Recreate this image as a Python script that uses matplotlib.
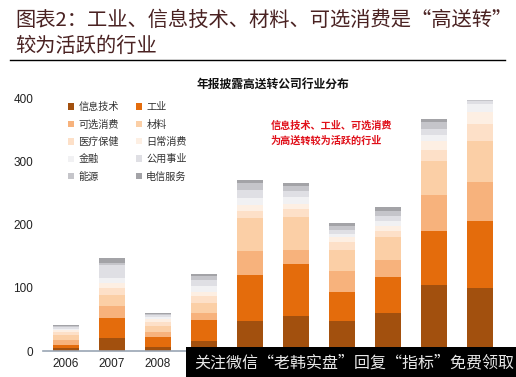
import matplotlib
matplotlib.use("Agg")
import matplotlib.pyplot as plt
from matplotlib.patches import Rectangle, Patch

plt.rcParams['font.family'] = ['Noto Sans CJK SC', 'DejaVu Sans']

years = ["2006", "2007", "2008", "2009", "2010", "2011", "2012", "2013", "2014", "2015"]
sectors = ["信息技术", "工业", "可选消费", "材料", "医疗保健", "日常消费", "金融", "公用事业", "能源", "电信服务"]

it_vals      = [5, 20, 6, 16, 47, 56, 48, 60, 105, 100]
ind_vals     = [4, 33, 16, 33, 74, 82, 46, 58, 85, 107]
cd_vals      = [8, 18, 8, 11, 37, 22, 33, 26, 58, 61]
mat_vals     = [8, 18, 10, 16, 53, 53, 34, 37, 53, 66]
health_vals  = [5, 11, 6, 11, 12, 12, 12, 10, 18, 26]
staples_vals = [3, 8, 5, 7, 9, 9, 8, 8, 14, 20]
fin_vals     = [2, 8, 3, 9, 11, 10, 5, 7, 10, 12]
util_vals    = [3, 20, 3, 9, 12, 10, 6, 8, 9, 5]
energy_vals  = [2, 4, 2, 7, 11, 8, 7, 9, 11, 1]
tel_vals     = [1, 7, 2, 4, 5, 4, 4, 5, 6, 0]

series = [it_vals, ind_vals, cd_vals, mat_vals, health_vals, staples_vals,
          fin_vals, util_vals, energy_vals, tel_vals]
colors = ["#a2500e", "#e46c0c", "#f7b27c", "#fbcfa6", "#fde0c8", "#fdefe3",
          "#f1f1f3", "#dfdfe4", "#c5c5ca", "#a3a3a7"]

fig = plt.figure(figsize=(5.16, 3.77), dpi=100)
ax = fig.add_axes([43/516, (377-351)/377, 460/516, 264.6/377])

x = list(range(len(years)))
bottom = [0]*len(years)
handles = []
for vals, col, name in zip(series, colors, sectors):
    ax.bar(x, vals, width=0.565, bottom=bottom, color=col, edgecolor='none')
    bottom = [b + v for b, v in zip(bottom, vals)]
    handles.append(Patch(facecolor=col, edgecolor='none', label=name))

ax.set_xlim(-0.5, 9.5)
ax.set_ylim(0, 420)
ax.set_yticks([0, 100, 200, 300, 400])
ax.set_xticks(x)
ax.set_xticklabels(years)
ax.tick_params(axis='both', length=0, labelsize=8.5, colors='#222222')
ax.tick_params(axis='y', pad=7)
ax.tick_params(axis='x', pad=5)
for lab in ax.get_xticklabels() + ax.get_yticklabels():
    lab.set_family(['Liberation Sans', 'DejaVu Sans'])
# labels from 2009 on lie under the black banner in the reference
for lab in ax.get_xticklabels()[3:]:
    lab.set_visible(False)
for s in ['top', 'right', 'left']:
    ax.spines[s].set_visible(False)
ax.spines['bottom'].set_color('#9aa6b4')
ax.spines['bottom'].set_linewidth(1.2)

# legend: row-wise order
order = [0, 2, 4, 6, 8, 1, 3, 5, 7, 9]
leg = ax.legend([handles[i] for i in order], [sectors[i] for i in order],
                ncol=2, loc='upper left', bbox_to_anchor=(0.035, 0.975),
                frameon=False, fontsize=7.3, handlelength=0.6, handleheight=0.6,
                handletextpad=0.4, columnspacing=1.7, labelspacing=0.72)
for t in leg.get_texts():
    t.set_color('#333333')

ax.text(0.5, 1.008, "年报披露高送转公司行业分布", transform=ax.transAxes,
        fontsize=8.5, fontweight='bold', color='#111111', ha='center', va='center')

ax.text(0.495, 0.872, "信息技术、工业、可选消费\n为高送转较为活跃的行业",
        transform=ax.transAxes, color='#e0101a', fontsize=7.3, fontweight='bold',
        ha='left', va='top', linespacing=1.55)

# header
fig.text(15/516, 1-20/377, "图表2：工业、信息技术、材料、可选消费是“高送转”",
         fontsize=14.6, color='#4a2222', ha='left', va='center')
fig.text(15/516, 1-46/377, "较为活跃的行业",
         fontsize=14.6, color='#4a2222', ha='left', va='center')
fig.add_artist(plt.Line2D([10/516, 505/516], [1-60/377, 1-60/377],
                          transform=fig.transFigure, color='black', lw=1))

# watermark banner
fig.add_artist(Rectangle((186/516, 0), 1 - 186/516, 30/377, transform=fig.transFigure,
                         facecolor='black', edgecolor='none', zorder=10))
fig.text(194/516, 14/377, "关注微信“老韩实盘”回复“指标”免费领取",
         fontsize=11.5, color='#e8e8e8', ha='left', va='center', zorder=11)

fig.savefig("out.png", dpi=100)
